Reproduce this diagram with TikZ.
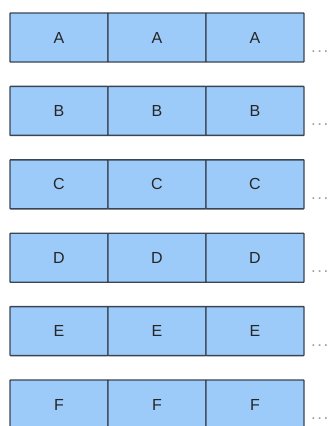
\documentclass[tikz,border=0pt]{standalone}
\usepackage{fontspec}
\setmainfont{Liberation Sans}
\usepackage{tikz}
\usetikzlibrary{positioning}
\definecolor{cellfill}{HTML}{9CCBFA}
\definecolor{celledge}{HTML}{3A4452}
\tikzset{
  cellbox/.style = {draw=celledge, fill=cellfill, line width=1.4pt, rounded corners=0.6pt,
                    minimum width=98pt, minimum height=49pt, inner sep=0pt, outer sep=0pt,
                    font=\fontsize{16}{16}\selectfont, text=black!85},
  moredots/.style = {font=\fontsize{17}{17}\selectfont, text=gray!75, inner sep=0pt}
}

\begin{document}
\begin{tikzpicture}[x=1pt,y=-1pt]
  \useasboundingbox (0,0) rectangle (331,426);
  % one row of three cells per letter, trailing dots on the right
  \foreach \lab [count=\i from 0] in {A,B,C,D,E,F}
    { \node[cellbox] (\lab1) at (59,{37.5+73.4*\i}) {\lab};
      \node[cellbox,right=0pt of \lab1] (\lab2) {\lab};
      \node[cellbox,right=0pt of \lab2] (\lab3) {\lab};
      \node[moredots,anchor=base west] (\lab dots) at ([xshift=7pt,yshift=-15pt]\lab3.east) {.\kern1.5pt.\kern1.5pt.}; }
\end{tikzpicture}
\end{document}
